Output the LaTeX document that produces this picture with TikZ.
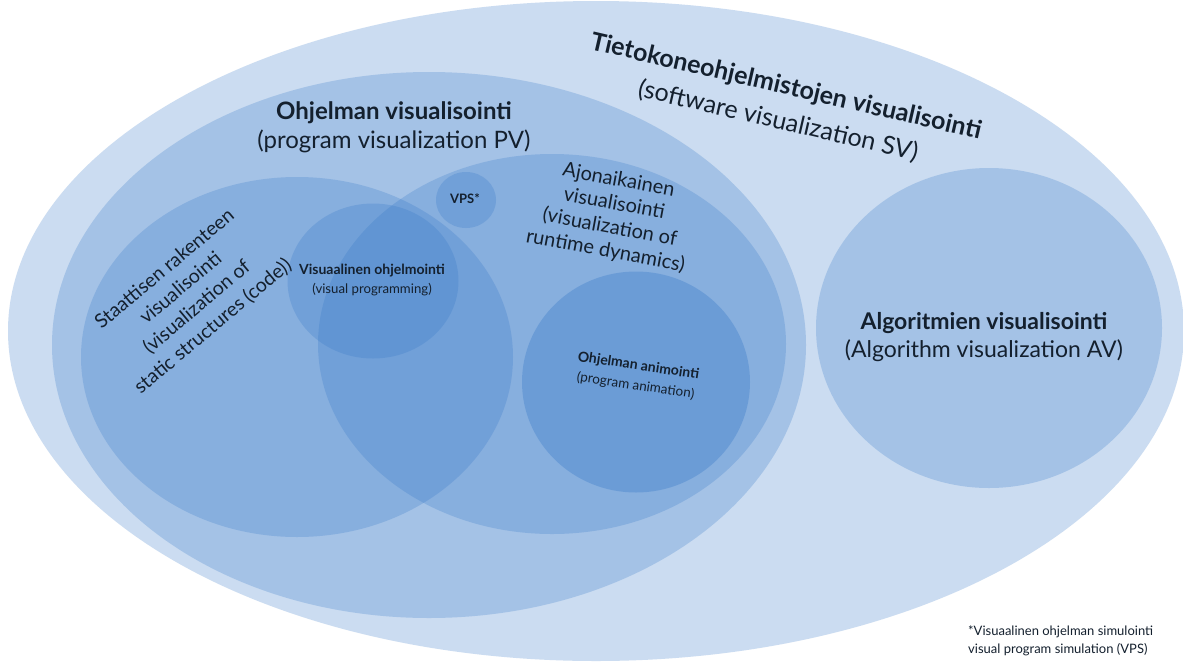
\documentclass[tikz,border=0pt]{standalone}
\usepackage{fontspec}
\setmainfont{Lato}
\usetikzlibrary{shapes.geometric}
\definecolor{baseblue}{RGB}{51,119,200}
\definecolor{ink}{HTML}{14202E}
\tikzset{
  blob/.style={ellipse, inner sep=0pt, fill=baseblue, fill opacity=0.25, draw=none},
  lbl/.style={text=ink, align=center, inner sep=0pt},
}
\begin{document}
\begin{tikzpicture}[x=1pt,y=-1pt]
\useasboundingbox (0,0) rectangle (1183,662);
\fill[white] (0,0) rectangle (1183,662);
% ellipses
\node[blob, minimum width=1176, minimum height=660] (sv) at (596,331) {};
\node[blob, minimum width=754, minimum height=546] (pv) at (429,345) {};
\node[blob, minimum width=432, minimum height=360] (st) at (297,357) {};
\node[blob, minimum width=468, minimum height=380] (rt) at (552,344) {};
\node[blob, minimum width=171, minimum height=155] (vp) at (373,281) {};
\node[blob, minimum width=60, minimum height=56] (vps) at (466,200) {};
\node[blob, fill opacity=0.32, minimum width=228, minimum height=221] (an) at (636,382) {};
\node[blob, minimum width=346, minimum height=320] (av) at (989,328) {};
% labels
\node[lbl, rotate=-13, font=\fontsize{25}{35}\selectfont] (svt) at (782,104)
  {\textbf{Tietokoneohjelmistojen visualisointi}\\(software visualization SV)};
\node[lbl, font=\fontsize{24}{29}\selectfont] (pvt) at (394,127)
  {\textbf{Ohjelman visualisointi}\\(program visualization PV)};
\node[lbl, rotate=40, font=\fontsize{19.5}{25}\selectfont] (stt) at (189,298)
  {Staattisen rakenteen\\visualisointi\\(visualization of\\static structures (code))};
\node[lbl, rotate=-10.5, font=\fontsize{20}{24}\selectfont] (rtt) at (612,216)
  {Ajonaikainen\\visualisointi\\(visualization of\\runtime dynamics)};
\node[lbl, font=\fontsize{13}{15}\selectfont\bfseries] (vpst) at (465,199) {VPS*};
\node[lbl, font=\fontsize{14}{19}\selectfont] (vpt) at (372,280)
  {\textbf{Visuaalinen ohjelmointi}\\{\fontsize{13.2}{15}\selectfont(visual programming)}};
\node[lbl, rotate=-8.5, font=\fontsize{14}{20}\selectfont] (ant) at (637,376)
  {\textbf{Ohjelman animointi}\\{\fontsize{13.5}{15}\selectfont(program animation)}};
\node[lbl, font=\fontsize{23}{28}\selectfont] (avt) at (984,337)
  {\textbf{Algoritmien visualisointi}\\(Algorithm visualization AV)};
\node[lbl, align=left, anchor=west, font=\fontsize{13}{18}\selectfont] (fn) at (968,641)
  {*Visuaalinen ohjelman simulointi\\visual program simulation (VPS)};
\end{tikzpicture}
\end{document}
